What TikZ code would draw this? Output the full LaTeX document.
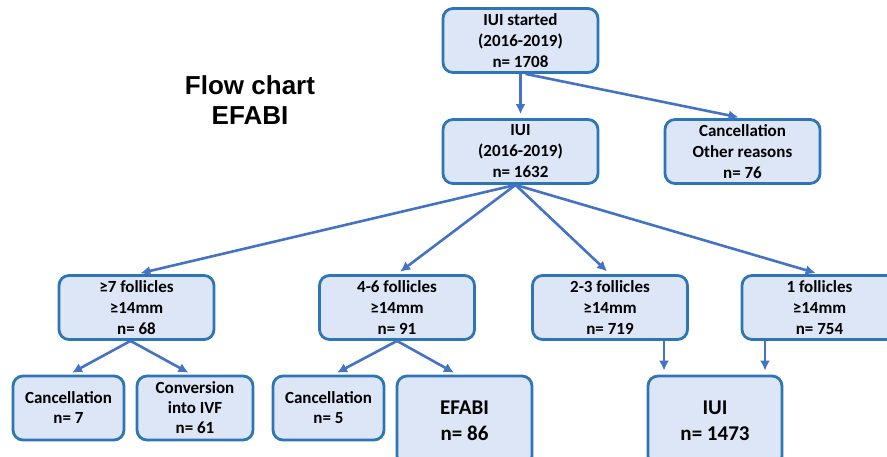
\documentclass[tikz,border=0pt]{standalone}
\usepackage{fontspec}
\usetikzlibrary{arrows.meta}
\setmainfont{Carlito}
\newfontfamily\titlefont{Liberation Sans}
\definecolor{boxfill}{HTML}{DDE6F6}
\definecolor{boxline}{HTML}{2E75B6}
\definecolor{arrline}{HTML}{4472C4}
\begin{document}
\begin{tikzpicture}[x=1pt, y=-1pt, >={Latex[length=10pt,width=10pt]},
  box/.style={draw=boxline, fill=boxfill, line width=2.8pt, rounded corners=10pt,
    align=center, inner sep=0pt, minimum width=155pt, minimum height=64pt,
    font=\fontsize{17}{21}\selectfont\bfseries},
  smallbox/.style={box, minimum width=111pt, font=\fontsize{17}{20}\selectfont\bfseries},
  bigbox/.style={box, minimum width=135pt, minimum height=90pt,
    font=\fontsize{21}{26}\selectfont\bfseries},
  arr/.style={->, draw=arrline, line width=2.6pt, shorten >=4pt}]
\useasboundingbox (0,0) rectangle (887,456);
\clip (0,0) rectangle (887,456);
% Titel
\node[font=\titlefont\bfseries\fontsize{26}{30}\selectfont, align=center] (title) at (250,100) {Flow chart\\EFABI};
% obere Ebene
\node[box] (start) at (520.5,40.5) {IUI started\\(2016-2019)\\n= 1708};
\node[box] (iui)   at (520.5,151.5) {IUI\\(2016-2019)\\n= 1632};
\node[box] (other) at (742.5,151.5) {Cancellation\\Other reasons\\n= 76};
% Follikel
\node[box] (fa) at (136.5,307.5) {≥7 follicles\\≥14mm\\n= 68};
\node[box] (fb) at (397,307.5)   {4-6 follicles\\≥14mm\\n= 91};
\node[box] (fc) at (610,307.5)   {2-3 follicles\\≥14mm\\n= 719};
\node[box] (fd) at (819.5,307.5) {1 follicles\\≥14mm\\n= 754};
% untere Ebene
\node[smallbox] (canca) at (68.5,408) {Cancellation\\n= 7};
\node[smallbox, minimum width=116pt] (conv) at (195,408) {Conversion\\into IVF\\n= 61};
\node[smallbox] (cancb) at (328.5,408) {Cancellation\\n= 5};
\node[bigbox] (efabi) at (464.5,421) {EFABI\\n= 86};
\node[bigbox, minimum width=134pt] (iuiend) at (715,421) {IUI\\n= 1473};
\draw[arr] (start) -- (iui);
\draw[arr] ([xshift=5pt]start.south) -- (other.north);
\foreach \f in {fa,fb,fc,fd}
  \draw[arr] ([xshift=-5pt]iui.south) -- (\f.north);
\draw[arr] ([xshift=-6pt]fa.south) -- (canca.north);
\draw[arr] ([xshift=-6pt]fa.south) -- ([xshift=-3pt]conv.north);
\draw[arr] (fb.south) -- ([xshift=5pt]cancb.north);
\draw[arr] (fb.south) -- ([xshift=-7pt]efabi.north);
\draw[arr] ([xshift=54pt]fc.south) -- ([xshift=54pt]fc.south |- iuiend.north);
\draw[arr] ([xshift=-54.5pt]fd.south) -- ([xshift=-54.5pt]fd.south |- iuiend.north);
\end{tikzpicture}
\end{document}
